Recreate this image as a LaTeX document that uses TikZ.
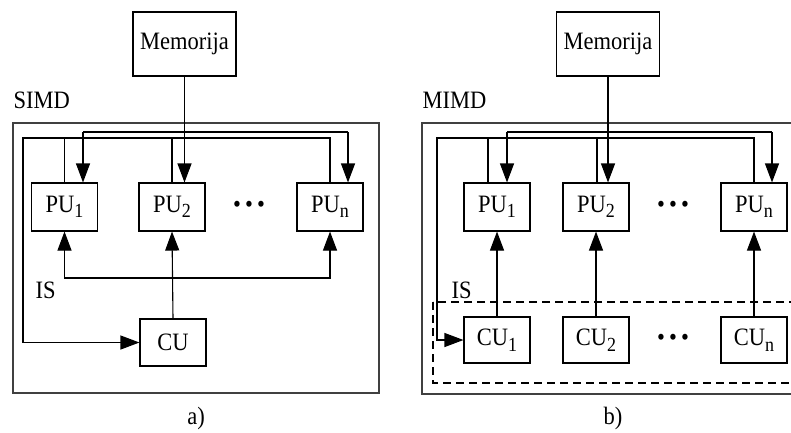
\documentclass[tikz,border=0pt]{standalone}
\usepackage{fontspec}
\setmainfont{Liberation Serif}[FakeStretch=0.9]
\usetikzlibrary{arrows.meta}
\newcommand\lowidx[1]{\raisebox{-5.5pt}{\fontsize{20}{20}\selectfont #1}}
\begin{document}
\begin{tikzpicture}[x=1pt,y=-1pt,
  line width=1.1pt,
  every node/.style={font=\fontsize{25}{27}\selectfont, inner sep=0pt},
  unit/.style={draw, minimum width=66pt, minimum height=48pt},
  membox/.style={draw, minimum width=103pt, minimum height=64pt},
  frame/.style={draw, line width=1.4pt, black!75},
  dashframe/.style={draw, dash pattern=on 8pt off 5pt},
  tip/.style={-{Triangle[length=19pt,width=14pt]}},
  tips/.style={{Triangle[length=19pt,width=14pt]}-{Triangle[length=19pt,width=14pt]}},
  lbl/.style={anchor=west}]
\useasboundingbox (0,0) rectangle (791,432);
\clip (0,0) rectangle (791,432);

% ---------- a) SIMD ----------
\draw[frame] (13,123) rectangle (379,393);
\node[lbl] (simd) at (13,100) {SIMD};
\node[membox] (mema) at (184.5,44) {Memorija};
\node[unit] (pu1a) at (64.5,207) {PU\lowidx{1}};
\node[unit] (pu2a) at (172,207) {PU\lowidx{2}};
\node[unit] (puna) at (330,207) {PU\lowidx{n}};
\node (dotsa) at (249,207) {\textbullet\,\textbullet\,\textbullet};
\node[unit, minimum height=47pt] (cua) at (173,342.5) {CU};
\node[lbl] (isa) at (35,290) {IS};
\node (capa) at (196,418) {a)};

% memory to the processing units
\coordinate (ta1) at (83,132);
\coordinate (tan) at (348,132);
\draw[tip] (mema.south) -- (mema.south |- pu2a.north);
\draw[tip] (ta1) -- (ta1 |- pu1a.north);
\draw[tip] (tan) -- (tan |- puna.north);
\draw (ta1) -- (tan);
% results back to the control unit
\coordinate (bla) at (23,138);
\draw[tip] (puna.north) |- (bla) |- (cua.west);
\draw (pu1a.north) -- (pu1a.north |- bla);
\draw (pu2a.north) -- (pu2a.north |- bla);
% instruction stream
\coordinate (busa) at (0,278);
\draw[tip] (cua.north) -- (pu2a.south);
\draw[tips] (pu1a.south) -- (pu1a.south |- busa) -- (puna.south |- busa) -- (puna.south);

% ---------- b) MIMD ----------
\draw[frame] (422,123) rectangle (820,394);
\draw[dashframe] (433,302) rectangle (820,383);
\node[lbl] (mimd) at (422,100) {MIMD};
\node[membox] (memb) at (608,44) {Memorija};
\node[unit] (pu1b) at (497,207) {PU\lowidx{1}};
\node[unit] (pu2b) at (596,207) {PU\lowidx{2}};
\node[unit] (punb) at (754,207) {PU\lowidx{n}};
\node (dotsb) at (673,207) {\textbullet\,\textbullet\,\textbullet};
\node[unit, minimum height=46pt] (cu1b) at (497,340) {CU\lowidx{1}};
\node[unit, minimum height=46pt] (cu2b) at (596,340) {CU\lowidx{2}};
\node[unit, minimum height=46pt] (cunb) at (754,340) {CU\lowidx{n}};
\node (dotsc) at (673,340) {\textbullet\,\textbullet\,\textbullet};
\node[lbl] (isb) at (451,290) {IS};
\node (capb) at (613,418) {b)};

% memory to the processing units
\coordinate (tb1) at (507,132);
\coordinate (tbn) at (772,132);
\draw[tip] (memb.south) -- (memb.south |- pu2b.north);
\draw[tip] (tb1) -- (tb1 |- pu1b.north);
\draw[tip] (tbn) -- (tbn |- punb.north);
\draw (tb1) -- (tbn);
% results back to the first control unit
\coordinate (blb) at (437,138);
\coordinate (vb1) at (488,138);
\coordinate (vb2) at (597,138);
\draw[tip] (punb.north) |- (blb) |- (cu1b.west);
\draw (vb1) -- (vb1 |- pu1b.north);
\draw (vb2) -- (vb2 |- pu2b.north);
% instruction streams
\draw[tip] (cu1b.north) -- (pu1b.south);
\draw[tip] (cu2b.north) -- (pu2b.south);
\draw[tip] (cunb.north) -- (punb.south);
\end{tikzpicture}
\end{document}
